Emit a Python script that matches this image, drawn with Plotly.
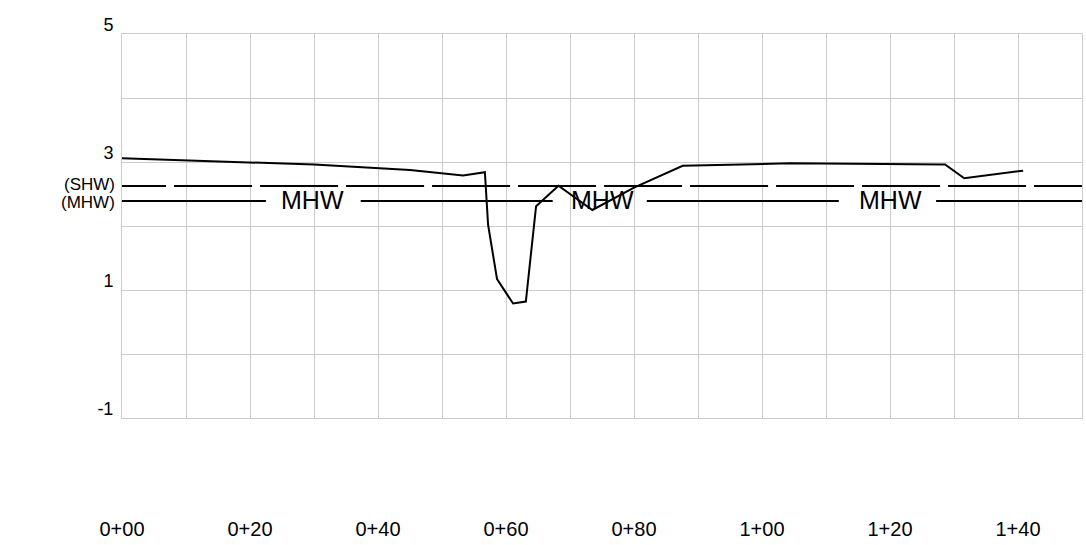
import plotly.graph_objects as go

# ground profile (station in ft, elevation)
station = [0, 30, 45, 53.3, 56.7, 57.2, 58.6, 61.1, 63.1, 64.7, 68.2, 73.5, 80, 87.6, 104.4, 128.6, 131.6, 140.8]
elev = [3.06, 2.96, 2.875, 2.79, 2.84, 2.02, 1.17, 0.79, 0.82, 2.31, 2.63, 2.25, 2.6, 2.94, 2.98, 2.96, 2.745, 2.865]

shw = 2.625
mhw = 2.39
mhw_segments = [(0, 22.5), (37.3, 67.3), (82.0, 112.0), (127.2, 150)]
mhw_label_x = [29.8, 75.0, 120.0]

x_tickvals = [0, 20, 40, 60, 80, 100, 120, 140]
x_ticktext = ["0+00", "0+20", "0+40", "0+60", "0+80", "1+00", "1+20", "1+40"]
y_tickvals = [-1, 1, 3, 5]
y_ticktext = ["-1", "1", "3", "5"]

fig = go.Figure()

# SHW dashed line (start left of view for dash phase; clipped)
fig.add_trace(go.Scatter(x=[-5.3, 152], y=[shw, shw], mode="lines",
                         line=dict(color="black", width=2, dash="78px,8px"),
                         hoverinfo="skip", showlegend=False))
# MHW broken solid line
for a, b in mhw_segments:
    fig.add_trace(go.Scatter(x=[a, b], y=[mhw, mhw], mode="lines",
                             line=dict(color="black", width=2),
                             hoverinfo="skip", showlegend=False))
# profile
fig.add_trace(go.Scatter(x=station, y=elev, mode="lines",
                         line=dict(color="black", width=2),
                         showlegend=False))

for lx in mhw_label_x:
    fig.add_annotation(x=lx, y=mhw, text="MHW", showarrow=False,
                       font=dict(family="Liberation Sans", size=25, color="black"),
                       xanchor="center", yanchor="middle", yshift=1)

fig.add_annotation(xref="paper", x=0, y=shw, text="(SHW)", showarrow=False,
                   xanchor="right", yanchor="middle", xshift=-5, yshift=2,
                   font=dict(family="Liberation Sans", size=17, color="black"))
fig.add_annotation(xref="paper", x=0, y=mhw, text="(MHW)", showarrow=False,
                   xanchor="right", yanchor="middle", xshift=-5, yshift=-1,
                   font=dict(family="Liberation Sans", size=17, color="black"))

grid = "#cccccc"
fig.update_xaxes(range=[0, 150], showgrid=True, gridcolor=grid, gridwidth=1,
                 showline=True, mirror=True, linecolor=grid, linewidth=1,
                 zeroline=False, ticks="", tickmode="array", automargin=False,
                 tickvals=x_tickvals, ticktext=x_ticktext,
                 minor=dict(dtick=10, tick0=0, showgrid=True, gridcolor=grid, gridwidth=1),
                 ticklabelstandoff=93,
                 tickfont=dict(family="Liberation Sans", size=20, color="black"))
fig.update_yaxes(range=[-1, 5], showgrid=True, gridcolor=grid, gridwidth=1,
                 showline=True, mirror=True, linecolor=grid, linewidth=1,
                 zeroline=False, ticks="", tickmode="array", automargin=False,
                 tickvals=y_tickvals, ticktext=y_ticktext,
                 minor=dict(dtick=1, tick0=0, showgrid=True, gridcolor=grid, gridwidth=1),
                 ticklabelshift=-9, ticklabelstandoff=4,
                 tickfont=dict(family="Liberation Sans", size=18, color="black"))

fig.update_layout(width=1086, height=545, margin=dict(l=122, r=4, t=34, b=127),
                  paper_bgcolor="white", plot_bgcolor="white", showlegend=False)

fig.write_html("out.html", config={"displayModeBar": False},
               post_script="document.body.style.margin='0';document.body.style.overflow='hidden';")
